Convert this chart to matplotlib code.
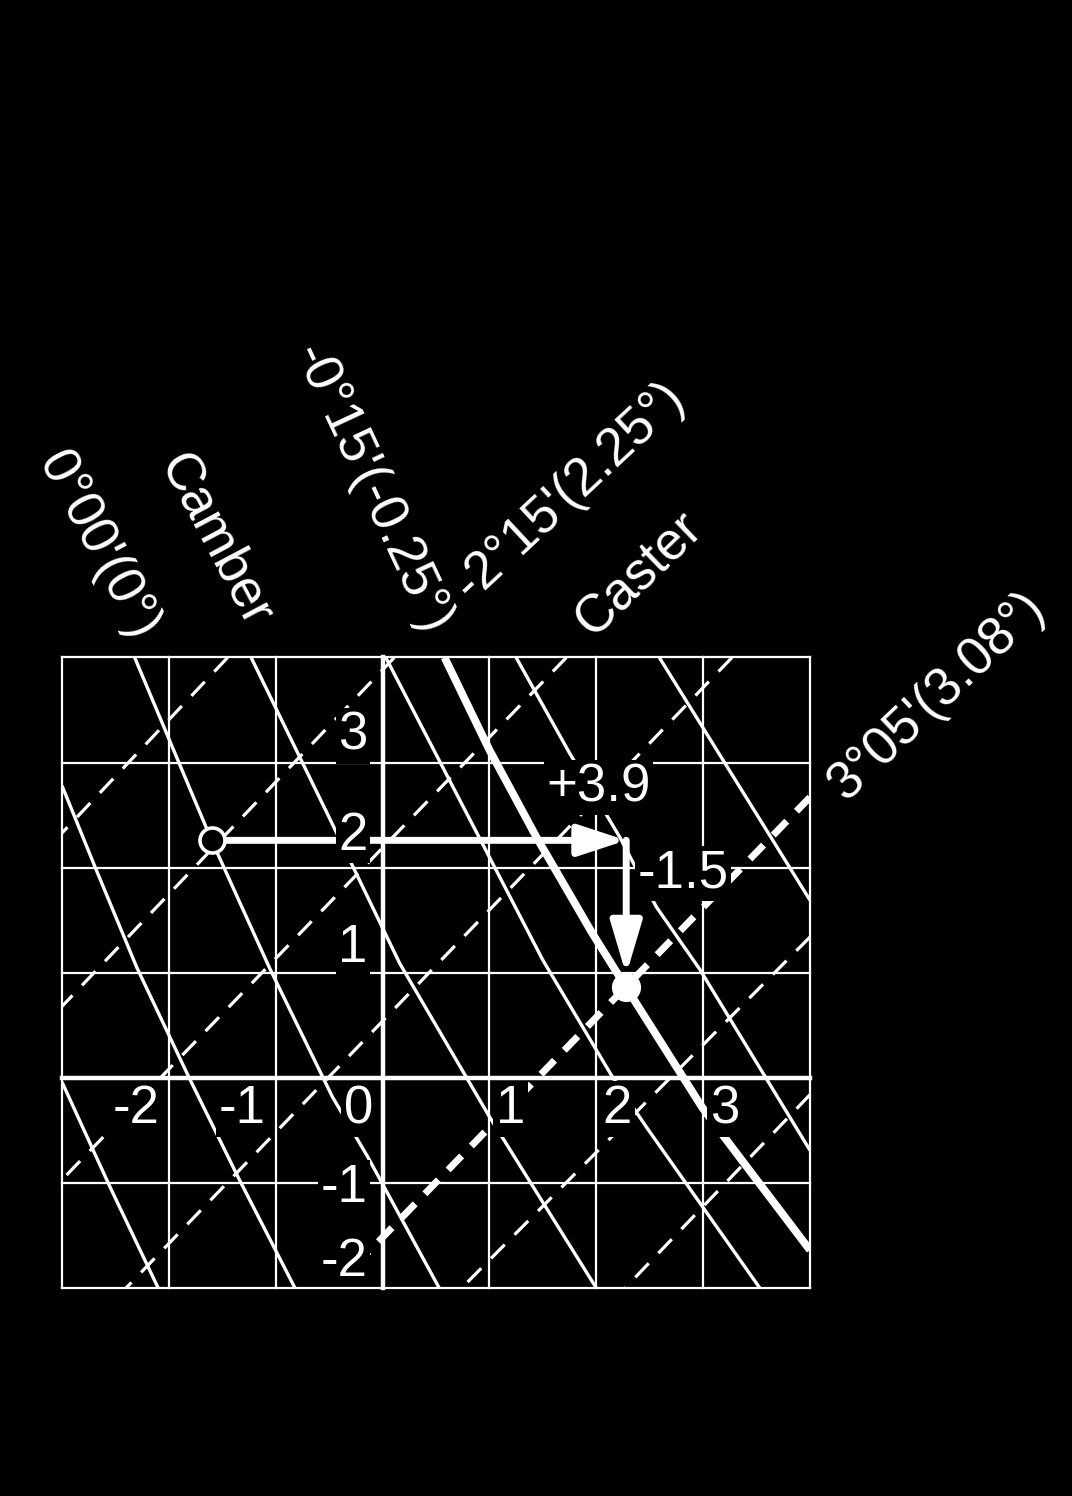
import matplotlib
matplotlib.use("Agg")
import matplotlib.pyplot as plt

plt.rcParams["font.family"] = ["Liberation Sans", "DejaVu Sans"]
plt.rcParams["lines.scale_dashes"] = False

# chart grid
grid_x = [-3, -2, -1, 0, 1, 2, 3, 4]
grid_y = [-2, -1, 0, 1, 2, 3, 4]

x_ticks = [-2, -1, 0, 1, 2, 3]
x_tick_labels = ["-2", "-1", "0", "1", "2", "3"]
y_tick_labels = ["3", "2", "1", "-1", "-2"]
y_label_base = [3.12, 2.17, 1.10, -1.18, -1.89]

# camber lines (solid)
camber_1 = [(-3.00, -0.04), (-2.55, -1.04), (-2.10, -2.00)]
camber_2 = [(-3.00, 2.78), (-2.68, 1.98), (-2.30, 1.05), (-1.81, 0.00),
            (-1.34, -0.97), (-0.82, -2.00)]
camber_0 = [(-2.32, 4.00), (-1.60, 2.26), (-1.06, 1.05), (-0.47, -0.18),
            (-0.14, -0.75), (0.53, -2.00)]
camber_3 = [(-1.23, 4.00), (-0.52, 2.52), (0.16, 1.09), (1.00, -0.37),
            (2.00, -2.00)]
camber_4 = [(0.03, 4.00), (1.50, 1.12), (2.15, 0.01), (2.47, -0.47),
            (3.53, -2.00)]
camber_5 = [(1.25, 4.00), (1.75, 3.09), (2.22, 2.29), (2.56, 1.63),
            (2.97, 1.03), (4.00, -0.69)]
camber_6 = [(2.59, 4.00), (4.00, 1.69)]
camber_target = [(0.58, 4.00), (1.00, 3.12), (1.44, 2.29), (1.96, 1.38),
                 (2.28, 0.86), (2.99, -0.28), (3.18, -0.54), (4.00, -1.64)]
camber_thin = [camber_1, camber_2, camber_0, camber_3, camber_4, camber_5, camber_6]

# caster lines (dashed), end points
caster_a = [(-1.45, 4.00), (-3.00, 2.33)]
caster_start = [(0.11, 4.00), (-3.00, 0.68)]
caster_c = [(1.72, 4.00), (-3.00, -0.97)]
caster_d = [(3.27, 4.00), (-2.40, -2.00)]
caster_f = [(4.00, 1.34), (0.74, -2.00)]
caster_g = [(4.00, -0.16), (2.27, -2.00)]
caster_target = [(4.00, 2.67), (-0.46, -2.00)]
caster_thin = [caster_a, caster_start, caster_c, caster_d, caster_f, caster_g]

# adjustment
start_pt = (-1.60, 2.26)
end_pt = (2.28, 0.86)
shift_labels = ["+3.9", "-1.5"]
shift_label_pos = [(2.02, 2.63), (2.81, 1.81)]

# rotated line labels
line_labels = ["0°00'(0°)", "Camber", "-0°15'(-0.25°)",
               "-2°15'(2.25°)", "Caster", "3°05'(3.08°)"]
line_label_pos = [(-2.66, 5.07), (-1.57, 5.12), (-0.10, 5.60),
                  (1.75, 5.58), (2.40, 4.79), (5.18, 3.63)]
line_label_rot = [-62, -62, -65, 43, 44, 43.5]

FS = 38
box = dict(facecolor="black", edgecolor="none", pad=2)

fig = plt.figure(figsize=(10.72, 14.96), dpi=100, facecolor="black")
ax = fig.add_axes([62 / 1072, 1 - 1288 / 1496, 748 / 1072, 630.5 / 1496])
ax.set_facecolor("black")
ax.set_xlim(-3, 4)
ax.set_ylim(-2, 4)
ax.axis("off")

# inner grid lines sit under the labels, border and axes on top
for gx in grid_x:
    top = gx in (grid_x[0], grid_x[-1], 0)
    ax.plot([gx, gx], [grid_y[0], grid_y[-1]], color="white",
            lw=3.2 if gx == 0 else 1.6, clip_on=False, zorder=7 if top else 1)
for gy in grid_y:
    top = gy in (grid_y[0], grid_y[-1], 0)
    ax.plot([grid_x[0], grid_x[-1]], [gy, gy], color="white",
            lw=3.2 if gy == 0 else 1.6, clip_on=False, zorder=7 if top else 1)

for line in camber_thin:
    xs, ys = zip(*line)
    ax.plot(xs, ys, color="white", lw=2.4, solid_capstyle="butt", zorder=2)
xs, ys = zip(*camber_target)
ax.plot(xs, ys, color="white", lw=5.6, solid_capstyle="butt", zorder=2)

for line in caster_thin:
    xs, ys = zip(*line)
    ax.plot(xs, ys, color="white", lw=2.3, dashes=(14, 10),
            dash_capstyle="butt", zorder=3)
xs, ys = zip(*caster_target)
ax.plot(xs, ys, color="white", lw=5.0, dashes=(14, 10),
        dash_capstyle="butt", zorder=3)

# arrows: across, then down
corner = (end_pt[0], start_pt[1])
ax.annotate("", xy=corner, xytext=start_pt,
            arrowprops=dict(arrowstyle="-|>,head_length=2.9,head_width=0.95",
                            color="white", lw=5, shrinkA=8, shrinkB=0),
            zorder=4)
ax.annotate("", xy=(end_pt[0], end_pt[1] + 0.12), xytext=corner,
            arrowprops=dict(arrowstyle="-|>,head_length=3.2,head_width=0.95",
                            color="white", lw=5, shrinkA=0, shrinkB=0),
            zorder=4)

ax.plot(*start_pt, marker="o", ms=18, mfc="black", mec="white", mew=2.6, zorder=5)
ax.plot(*end_pt, marker="o", ms=20, mfc="white", mec="white", zorder=5)

for t, lab in zip(x_ticks, x_tick_labels):
    if t <= 0:
        ax.text(t - 0.09, -0.43, lab, ha="right", va="baseline", fontsize=FS,
                color="white", bbox=box, zorder=6)
    else:
        ax.text(t + 0.06, -0.43, lab, ha="left", va="baseline", fontsize=FS,
                color="white", bbox=box, zorder=6)
for yb, lab in zip(y_label_base, y_tick_labels):
    ax.text(-0.14, yb, lab, ha="right", va="baseline", fontsize=FS,
            color="white", bbox=box, zorder=6)

for (px, py), lab in zip(shift_label_pos, shift_labels):
    ax.text(px, py, lab, ha="center", va="baseline", fontsize=FS,
            color="white", bbox=box, zorder=6)

for (px, py), lab, rot in zip(line_label_pos, line_labels, line_label_rot):
    ax.text(px, py, lab, ha="center", va="center", rotation=rot,
            rotation_mode="anchor", fontsize=FS, color="white",
            clip_on=False, zorder=6)

fig.savefig("out.png", dpi=100, facecolor="black")
